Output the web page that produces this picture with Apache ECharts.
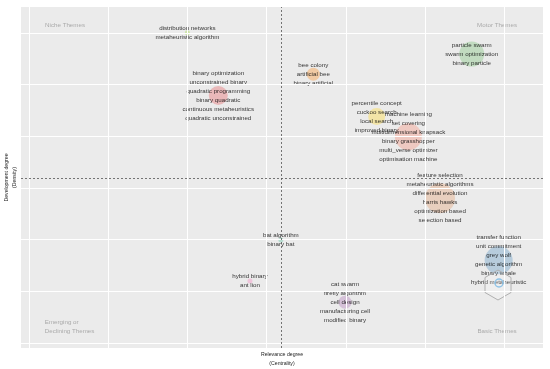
<!DOCTYPE html>
<html><head><meta charset="utf-8">
<script src="https://cdn.jsdelivr.net/npm/echarts@6/dist/echarts.min.js"></script>
<style>html,body{margin:0;padding:0;background:#fff}#c{width:550px;height:369px}</style>
</head><body><div id="c"></div>
<script>
// ---- data ----
const clusterWords = [
  ["distribution networks","metaheuristic algorithm"],
  ["binary optimization","unconstrained binary","quadratic programming","binary quadratic","continuous metaheuristics","quadratic unconstrained"],
  ["bee colony","artificial bee","binary artificial"],
  ["particle swarm","swarm optimization","binary particle"],
  ["percentile concept","cuckoo search","local search","improved binary"],
  ["machine learning","set covering","multidimensional knapsack","binary grasshopper","multi_verse optimizer","optimisation machine"],
  ["feature selection","metaheuristic algorithms","differential evolution","harris hawks","optimization based","selection based"],
  ["bat algorithm","binary bat"],
  ["hybrid binary","ant lion"],
  ["cat swarm","firefly algorithm","cell design","manufacturing cell","modified binary"],
  ["transfer function","unit commitment","grey wolf","genetic algorithm","binary whale","hybrid metaheuristic"]
];
const centrality = [2.00, 2.39, 3.59, 5.59, 4.39, 4.79, 5.19, 3.18, 2.79, 3.99, 5.93];
const density    = [6.00, 4.79, 5.20, 5.59, 4.38, 3.99, 2.80, 1.99, 1.20, 0.79, 1.60];
const bubbleSize = [5, 19, 13, 25, 17, 27, 30, 5, 5, 13, 28];
const clusterColors = ["rgba(166,216,84,0.55)","rgba(228,26,28,0.3)","rgba(255,127,0,0.38)","rgba(77,175,74,0.33)","rgba(255,217,47,0.45)","rgba(252,106,74,0.32)","rgba(224,128,64,0.33)","rgba(102,194,165,0.5)","rgba(247,129,191,0.45)","rgba(152,78,163,0.33)","rgba(55,126,184,0.36)"];
const meanCentrality = 3.18;
const meanDensity = 3.19;
const quadrantNames = ["Niche Themes","Motor Themes","Emerging or\nDeclining Themes","Basic Themes"];
const quadrantX = [0.455, 5.91, 0.20, 5.91];
const quadrantY = [6.15, 6.15, 0.32, 0.23];
const quadrantAlign = ["center","center","left","center"];
const gridX = [0,1,2,3,4,5,6];
const gridY = [0,1,2,3,4,5,6];

// ---- chart ----
const chart = echarts.init(document.getElementById('c'), null, {renderer:'canvas'});
const FONT = '"Liberation Sans", Arial, sans-serif';

const bubbles = centrality.map((x,i)=>({
  value:[x, density[i]],
  symbolSize: bubbleSize[i],
  itemStyle:{color: clusterColors[i]},
  label:{show:true, formatter: clusterWords[i].join('\n')}
}));

const quads = quadrantNames.map((n,i)=>({
  value:[quadrantX[i], quadrantY[i]],
  label:{show:true, formatter:n, align: quadrantAlign[i]}
}));

chart.setOption({
  animation:false,
  backgroundColor:'#ffffff',
  grid:{left:21, right:7, top:7, bottom:21, show:true, backgroundColor:'#EBEBEB', borderWidth:0,
        containLabel:false, outerBoundsMode:'none'},
  xAxis:{type:'value', min:-0.101, max:6.49,
    name:'Relevance degree\n(Centrality)', nameLocation:'middle', nameGap:2,
    nameTextStyle:{fontSize:5.2, lineHeight:9, color:'#222', fontFamily:FONT, verticalAlign:'top'},
    axisLine:{show:false}, axisTick:{show:false}, axisLabel:{show:false}, splitLine:{show:false}},
  yAxis:{type:'value', min:-0.097, max:6.5,
    name:'Development degree\n(Density)', nameLocation:'middle', nameGap:2, nameRotate:90,
    nameTextStyle:{fontSize:5.2, lineHeight:8, color:'#222', fontFamily:FONT},
    axisLine:{show:false}, axisTick:{show:false}, axisLabel:{show:false}, splitLine:{show:false}},
  graphic:[
    {type:'polygon', shape:{points:[[498,270],[511,277.5],[511,292.5],[498,300],[485,292.5],[485,277.5]]},
     style:{fill:'rgba(255,255,255,0.15)', stroke:'#b0b0b0', lineWidth:1}, z:5},
    {type:'circle', shape:{cx:499, cy:283, r:4}, style:{fill:'none', stroke:'#8fc3e6', lineWidth:1.5}, z:5}
  ],
  series:[
    {type:'scatter', data:[], silent:true, z:1,
     markLine:{silent:true, symbol:'none', label:{show:false},
       lineStyle:{color:'#ffffff', width:1, type:'solid'},
       data: gridX.map(v=>({xAxis:v})).concat(gridY.map(v=>({yAxis:v})))}},
    {type:'scatter', data:[], silent:true, z:2,
     markLine:{silent:true, symbol:'none', label:{show:false},
       lineStyle:{color:'#555555', width:0.8, type:[2,2]},
       data:[{xAxis:meanCentrality},{yAxis:meanDensity}]}},
    {type:'scatter', data:bubbles, z:3,
     label:{position:'inside', fontSize:6.2, lineHeight:9, color:'#000000', fontFamily:FONT}},
    {type:'scatter', data:quads, symbolSize:0, z:4,
     label:{position:'inside', fontSize:6.2, lineHeight:9, color:'#999999', fontFamily:FONT}}
  ]
});
</script></body></html>
